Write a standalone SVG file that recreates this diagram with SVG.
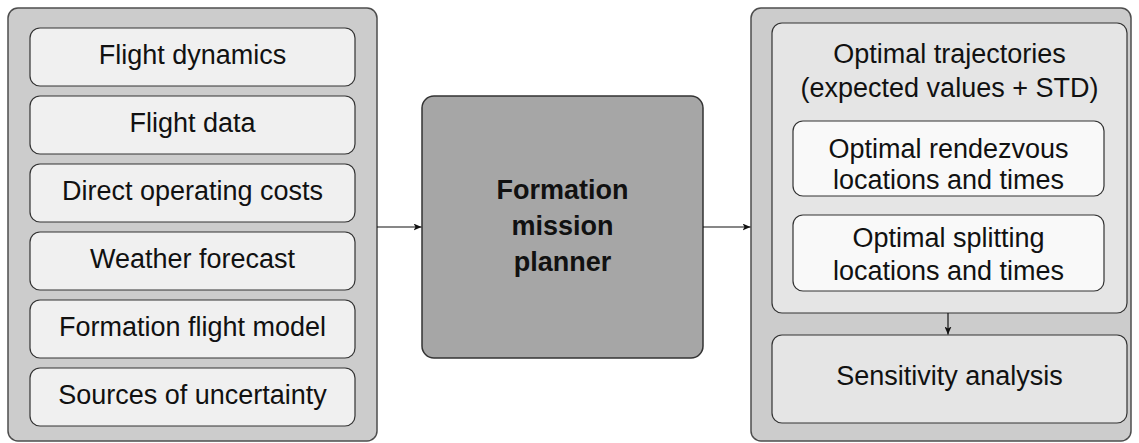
<svg xmlns="http://www.w3.org/2000/svg" width="1139" height="443" viewBox="0 0 1139 443">
  <style>
    .panel { fill: #cccccc; stroke: #4d4d4d; stroke-width: 1.5; }
    .input { fill: #f0f0f0; stroke: #333333; stroke-width: 1.2; }
    .core { fill: #a6a6a6; stroke: #333333; stroke-width: 1.5; }
    .group { fill: #e5e5e5; stroke: #333333; stroke-width: 1.2; }
    .sub { fill: #f9f9f9; stroke: #333333; stroke-width: 1.2; }
    text { font-family: "Liberation Sans", Arial, sans-serif; font-size: 27px; fill: #111111; text-anchor: middle; }
    .bold { font-weight: bold; }
    .wire { stroke: #111111; stroke-width: 1.2; fill: none; marker-end: url(#tip); }
  </style>
  <defs>
    <marker id="tip" markerWidth="9" markerHeight="7" refX="8" refY="3.5" orient="auto" markerUnits="userSpaceOnUse">
      <path d="M0,0 L8,3.5 L0,7 L2,3.5 Z" fill="#111111"/>
    </marker>
  </defs>

  <!-- input panel -->
  <g id="inputs">
    <rect class="panel" x="8" y="8" width="369" height="433" rx="10"/>
  </g>
  <g id="flight-dynamics">
    <rect class="input" x="30" y="28" width="325" height="58" rx="10"/>
    <text x="192.5" y="64">Flight dynamics</text>
  </g>
  <g id="flight-data">
    <rect class="input" x="30" y="96" width="325" height="58" rx="10"/>
    <text x="192.5" y="132">Flight data</text>
  </g>
  <g id="operating-costs">
    <rect class="input" x="30" y="164" width="325" height="58" rx="10"/>
    <text x="192.5" y="200">Direct operating costs</text>
  </g>
  <g id="weather-forecast">
    <rect class="input" x="30" y="232" width="325" height="58" rx="10"/>
    <text x="192.5" y="268">Weather forecast</text>
  </g>
  <g id="formation-model">
    <rect class="input" x="30" y="300" width="325" height="58" rx="10"/>
    <text x="192.5" y="336">Formation flight model</text>
  </g>
  <g id="uncertainty">
    <rect class="input" x="30" y="368" width="325" height="58" rx="10"/>
    <text x="192.5" y="404">Sources of uncertainty</text>
  </g>

  <!-- planner -->
  <g id="planner">
    <rect class="core" x="422" y="96" width="281" height="262" rx="12"/>
    <text class="bold" x="562.5" y="199">Formation</text>
    <text class="bold" x="562.5" y="235">mission</text>
    <text class="bold" x="562.5" y="271">planner</text>
  </g>

  <!-- output panel -->
  <g id="outputs">
    <rect class="panel" x="751" y="8" width="380" height="433" rx="10"/>
  </g>
  <g id="trajectories">
    <rect class="group" x="772" y="23" width="355" height="290" rx="10"/>
    <text x="949.5" y="63">Optimal trajectories</text>
    <text x="949.5" y="97">(expected values + STD)</text>
  </g>
  <g id="rendezvous">
    <rect class="sub" x="793" y="121" width="311" height="75" rx="10"/>
    <text x="948.5" y="158">Optimal rendezvous</text>
    <text x="948.5" y="189">locations and times</text>
  </g>
  <g id="splitting">
    <rect class="sub" x="793" y="215" width="311" height="76" rx="10"/>
    <text x="948.5" y="247">Optimal splitting</text>
    <text x="948.5" y="280">locations and times</text>
  </g>
  <g id="sensitivity">
    <rect class="group" x="772" y="335" width="355" height="88" rx="10"/>
    <text x="949.5" y="385">Sensitivity analysis</text>
  </g>

  <!-- connectors -->
  <g id="connectors">
    <line class="wire" x1="377" y1="227" x2="421.5" y2="227"/>
    <line class="wire" x1="703" y1="227" x2="750.5" y2="227"/>
    <line class="wire" x1="948" y1="313" x2="948" y2="334.5"/>
  </g>
</svg>
